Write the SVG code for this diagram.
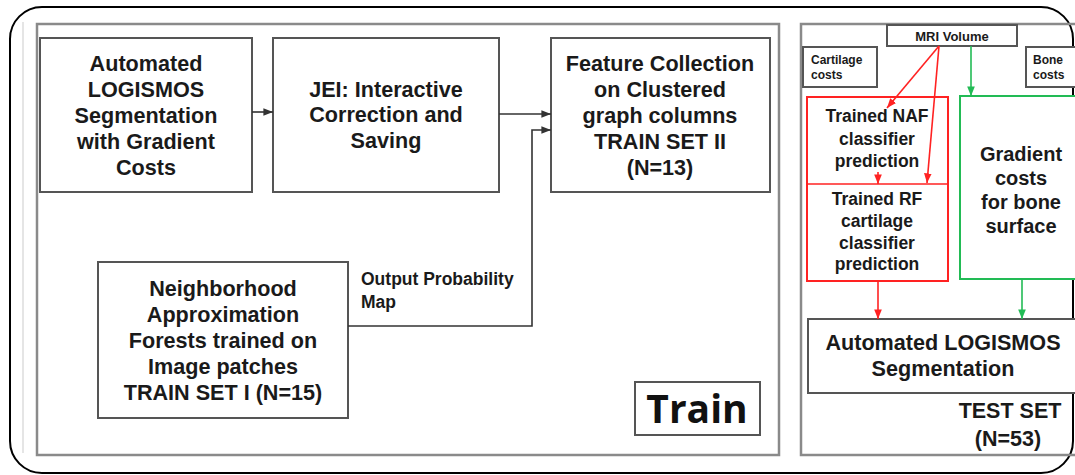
<svg xmlns="http://www.w3.org/2000/svg" width="1075" height="475" viewBox="0 0 1075 475">
<style>
.panel{fill:none;stroke:#8a8a8a;stroke-width:2.5}
.box{fill:#fff;stroke:#555;stroke-width:2}
.t{font-family:"Liberation Sans",Arial,sans-serif;font-weight:bold;fill:#1a1a1a;text-anchor:middle}
.l{font-size:21.6px}
.s{font-size:17.5px}
.xs{font-size:12px}
.c{stroke:#333;stroke-width:1.6;fill:none}
.r{stroke:#f22;stroke-width:1.6;fill:none}
.g{stroke:#2b5;stroke-width:1.6;fill:none}
</style>
<defs>
<marker id="ak" viewBox="0 0 10 10" refX="10" refY="5" markerWidth="6" markerHeight="6" orient="auto"><path d="M0,1 L10,5 L0,9 z" fill="#333"/></marker>
<marker id="ar" viewBox="0 0 10 10" refX="10" refY="5" markerWidth="6" markerHeight="6" orient="auto"><path d="M0,1 L10,5 L0,9 z" fill="#f22"/></marker>
<marker id="ag" viewBox="0 0 10 10" refX="10" refY="5" markerWidth="6" markerHeight="6" orient="auto"><path d="M0,1 L10,5 L0,9 z" fill="#2b5"/></marker>
</defs>
<rect x="0" y="0" width="1075" height="475" fill="#fff"/>
<rect x="10" y="7" width="1063" height="466" rx="32" fill="none" stroke="#000" stroke-width="2"/>
<line x1="23" y1="22" x2="23" y2="453" stroke="#ddd" stroke-width="1.5"/>
<g id="train-panel"><rect class="panel" x="37" y="24" width="742" height="431"/></g>
<g id="test-panel"><rect class="panel" x="801" y="24" width="290" height="431"/></g>

<g id="n-auto">
<rect class="box" x="40" y="38" width="212" height="154"/>
<text class="t l" x="146" y="71">Automated</text>
<text class="t l" x="146" y="97">LOGISMOS</text>
<text class="t l" x="146" y="123">Segmentation</text>
<text class="t l" x="146" y="149">with Gradient</text>
<text class="t l" x="146" y="175">Costs</text>
</g>
<g id="n-jei">
<rect class="box" x="273" y="38" width="226" height="154"/>
<text class="t l" x="386" y="97">JEI: Interactive</text>
<text class="t l" x="386" y="122">Correction and</text>
<text class="t l" x="386" y="148">Saving</text>
</g>
<g id="n-feat">
<rect class="box" x="551" y="38" width="219" height="154"/>
<text class="t l" x="660" y="71">Feature Collection</text>
<text class="t l" x="660" y="97">on Clustered</text>
<text class="t l" x="660" y="123">graph columns</text>
<text class="t l" x="660" y="149">TRAIN SET II</text>
<text class="t l" x="660" y="175">(N=13)</text>
</g>
<g id="n-naf">
<rect class="box" x="98" y="262" width="250" height="156"/>
<text class="t l" x="223" y="296">Neighborhood</text>
<text class="t l" x="223" y="322">Approximation</text>
<text class="t l" x="223" y="348">Forests trained on</text>
<text class="t l" x="223" y="374">Image patches</text>
<text class="t l" x="223" y="400">TRAIN SET I (N=15)</text>
</g>
<g id="n-trainlabel">
<rect class="box" x="635" y="382" width="125" height="53"/>
<text x="697" y="423" text-anchor="middle" font-family="'Open Sans',sans-serif" font-weight="bold" font-size="39" fill="#111">Train</text>
</g>
<g id="l-output">
<text class="t s" x="361" y="285" style="text-anchor:start">Output Probability</text>
<text class="t s" x="361" y="308" style="text-anchor:start">Map</text>
</g>

<g id="n-mri">
<rect class="box" x="887" y="25" width="130" height="21"/>
<text class="t" x="952" y="41" font-size="13">MRI Volume</text>
</g>
<g id="n-cart">
<rect class="box" x="803" y="47" width="74" height="40"/>
<text class="t xs" x="811" y="64" style="text-anchor:start">Cartilage</text>
<text class="t xs" x="811" y="79" style="text-anchor:start">costs</text>
</g>
<g id="n-bone">
<rect class="box" x="1026" y="47" width="60" height="40"/>
<text class="t xs" x="1033" y="64" style="text-anchor:start">Bone</text>
<text class="t xs" x="1033" y="79" style="text-anchor:start">costs</text>
</g>
<g id="n-redbox">
<rect x="807" y="97" width="141" height="184" fill="#fff" stroke="#f22" stroke-width="2"/>
<line x1="807" y1="184" x2="948" y2="184" stroke="#f22" stroke-width="1.6"/>
<text class="t s" x="877" y="122">Trained NAF</text>
<text class="t s" x="877" y="145">classifier</text>
<text class="t s" x="877" y="167">prediction</text>
<text class="t s" x="877" y="205">Trained RF</text>
<text class="t s" x="877" y="227">cartilage</text>
<text class="t s" x="877" y="249">classifier</text>
<text class="t s" x="877" y="270">prediction</text>
</g>
<g id="n-grad">
<rect x="960" y="96" width="130" height="183" fill="#fff" stroke="#2b5" stroke-width="2"/>
<text class="t" font-size="20" x="1021" y="161">Gradient</text>
<text class="t" font-size="20" x="1021" y="185">costs</text>
<text class="t" font-size="20" x="1021" y="209">for bone</text>
<text class="t" font-size="20" x="1021" y="233">surface</text>
</g>
<g id="n-autotest">
<rect class="box" x="808" y="319" width="280" height="74"/>
<text class="t l" x="943" y="350">Automated LOGISMOS</text>
<text class="t l" x="943" y="376">Segmentation</text>
</g>
<g id="l-test">
<text class="t" font-size="21.5" x="1010" y="418">TEST SET</text>
<text class="t" font-size="21.5" x="1008" y="446">(N=53)</text>
</g>

<g id="connectors">
<line class="c" x1="252" y1="112" x2="273" y2="112" marker-end="url(#ak)"/>
<line class="c" x1="499" y1="114" x2="551" y2="114" marker-end="url(#ak)"/>
<polyline class="c" points="348,326 532,326 532,130 551,130" marker-end="url(#ak)"/>
<line class="r" x1="939" y1="46" x2="887" y2="108" marker-end="url(#ar)"/>
<line class="r" x1="939" y1="46" x2="927" y2="183" marker-end="url(#ar)"/>
<line class="r" x1="878" y1="172" x2="878" y2="184" marker-end="url(#ar)"/>
<line class="g" x1="971" y1="46" x2="971" y2="96" marker-end="url(#ag)"/>
<line class="r" x1="878" y1="281" x2="878" y2="319" marker-end="url(#ar)"/>
<line class="g" x1="1022" y1="279" x2="1022" y2="319" marker-end="url(#ag)"/>
</g>
</svg>
